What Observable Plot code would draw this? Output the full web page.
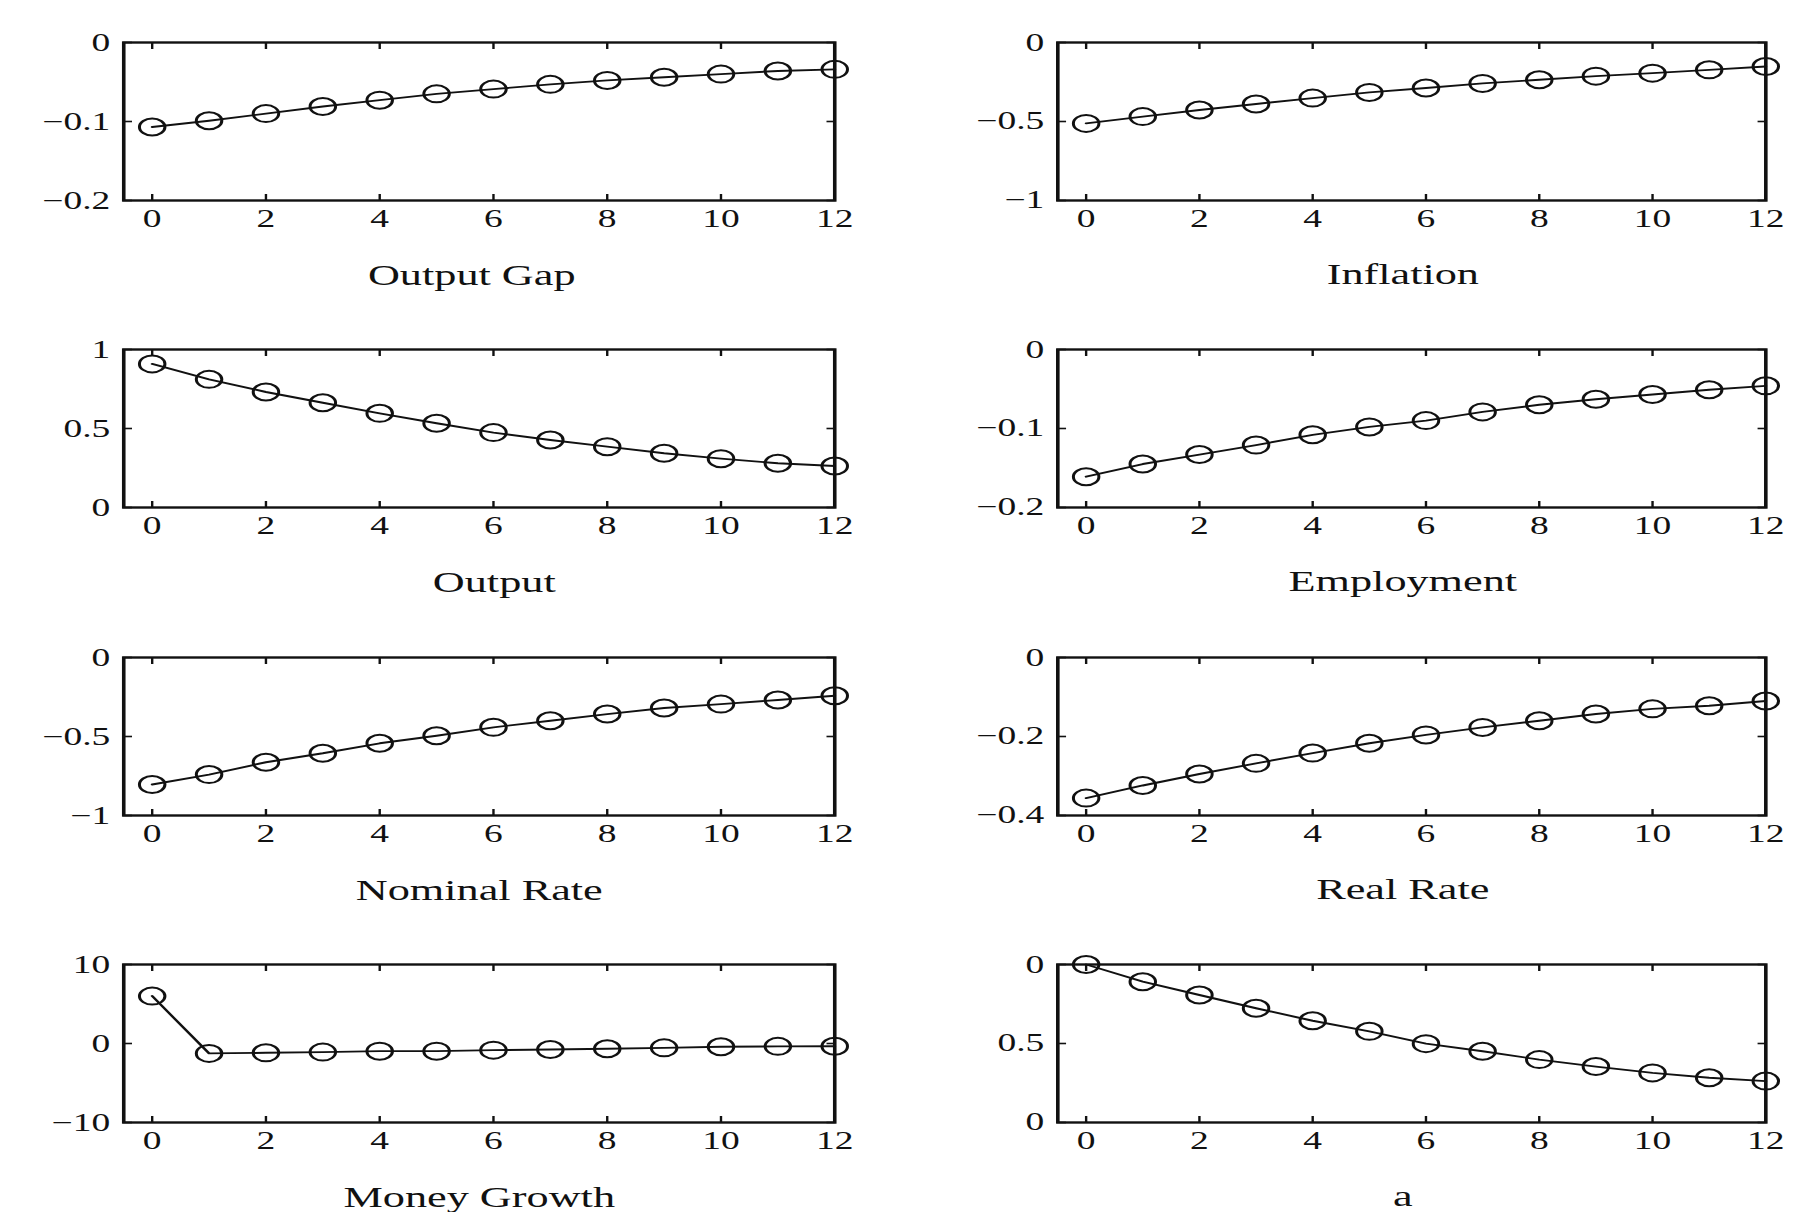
<!DOCTYPE html>
<html>
<head>
<meta charset="utf-8">
<script src="https://cdn.jsdelivr.net/npm/d3@7"></script>
<script src="https://cdn.jsdelivr.net/npm/@observablehq/plot@0.6"></script>
<style>
  html, body { margin: 0; padding: 0; background: #ffffff; overflow: hidden; }
  #stage { position: relative; width: 1201.33px; height: 1212px; transform: scaleX(1.5); transform-origin: 0 0; }
  #stage svg { position: absolute; }
</style>
</head>
<body>
<div id="stage"></div>
<script>
// ---- data ----
const periods = [0, 1, 2, 3, 4, 5, 6, 7, 8, 9, 10, 11, 12];
const xTicks = [0, 2, 4, 6, 8, 10, 12];

const outputGap   = [-0.107, -0.099, -0.090, -0.081, -0.073, -0.065, -0.059, -0.053, -0.048, -0.044, -0.040, -0.036, -0.034];
const inflation   = [-0.512, -0.469, -0.427, -0.389, -0.352, -0.316, -0.288, -0.259, -0.236, -0.213, -0.194, -0.173, -0.152];
const output      = [0.909, 0.811, 0.731, 0.663, 0.596, 0.533, 0.474, 0.427, 0.385, 0.343, 0.309, 0.280, 0.263];
const employment  = [-0.161, -0.145, -0.133, -0.121, -0.108, -0.098, -0.090, -0.079, -0.070, -0.063, -0.057, -0.051, -0.046];
const nominalRate = [-0.804, -0.741, -0.663, -0.606, -0.543, -0.495, -0.442, -0.400, -0.358, -0.320, -0.295, -0.269, -0.242];
const realRate    = [-0.356, -0.324, -0.295, -0.268, -0.242, -0.217, -0.196, -0.177, -0.160, -0.143, -0.130, -0.122, -0.110];
const moneyGrowth = [6.0, -1.25, -1.18, -1.09, -0.97, -0.97, -0.84, -0.76, -0.67, -0.55, -0.42, -0.36, -0.34];
const aShock      = [1.0, 0.891, 0.807, 0.723, 0.644, 0.577, 0.499, 0.451, 0.398, 0.354, 0.314, 0.283, 0.262];

const titles = ["Output Gap", "Inflation", "Output", "Employment", "Nominal Rate", "Real Rate", "Money Growth", "a"];

const ticksOutputGap = [-0.2, -0.1, 0],   labelsOutputGap = ["\u22120.2", "\u22120.1", "0"];
const ticksInflation = [-1, -0.5, 0],     labelsInflation = ["\u22121", "\u22120.5", "0"];
const ticksOutput    = [0, 0.5, 1],       labelsOutput    = ["0", "0.5", "1"];
const ticksEmploy    = [-0.2, -0.1, 0],   labelsEmploy    = ["\u22120.2", "\u22120.1", "0"];
const ticksNominal   = [-1, -0.5, 0],     labelsNominal   = ["\u22121", "\u22120.5", "0"];
const ticksReal      = [-0.4, -0.2, 0],   labelsReal      = ["\u22120.4", "\u22120.2", "0"];
const ticksMoney     = [-10, 0, 10],      labelsMoney     = ["\u221210", "0", "10"];
const ticksA         = [0, 0.5, 1],       labelsA         = ["0", "0.5", "0"];

const panels = [
  {title: titles[0], values: outputGap,   ticks: ticksOutputGap, labels: labelsOutputGap},
  {title: titles[1], values: inflation,   ticks: ticksInflation, labels: labelsInflation},
  {title: titles[2], values: output,      ticks: ticksOutput,    labels: labelsOutput},
  {title: titles[3], values: employment,  ticks: ticksEmploy,    labels: labelsEmploy},
  {title: titles[4], values: nominalRate, ticks: ticksNominal,   labels: labelsNominal},
  {title: titles[5], values: realRate,    ticks: ticksReal,      labels: labelsReal},
  {title: titles[6], values: moneyGrowth, ticks: ticksMoney,     labels: labelsMoney},
  {title: titles[7], values: aShock,      ticks: ticksA,         labels: labelsA}
];

// ---- layout (unstretched coordinates; the stage is stretched 1.5x horizontally like the scan) ----
const ink = "#111111";
const colLeft = [0, 600];
const colWidth = [600, 601.33];
const colMarginLeft = [82, 104.7];
const colMarginRight = [44, 24.6];
const rowFrameTop = [42, 349, 657, 964];
const titleShift = [-5, -6, 10, -6, 0, -6, 0, -6];
const frameH = 158;
const mt = 20, mb = 100;

const stage = document.getElementById("stage");

panels.forEach((p, k) => {
  const col = k % 2, row = Math.floor(k / 2);
  const data = periods.map((t, i) => ({t, v: p.values[i]}));
  const chart = Plot.plot({
    width: colWidth[col],
    height: mt + frameH + mb,
    marginLeft: colMarginLeft[col],
    marginRight: colMarginRight[col],
    marginTop: mt,
    marginBottom: mb,
    style: {
      fontFamily: "'Liberation Serif', 'Times New Roman', serif",
      fontSize: "25px",
      color: ink,
      background: "transparent",
      overflow: "visible"
    },
    x: {domain: [-0.5, 12]},
    y: {domain: [p.ticks[0], p.ticks[p.ticks.length - 1]]},
    marks: [
      Plot.frame({stroke: ink, strokeWidth: 2.4}),
      Plot.axisX(xTicks, {anchor: "bottom", tickSize: -6, tickPadding: 15, strokeWidth: 1.6, label: null, tickFormat: d => String(d)}),
      Plot.axisX(xTicks, {anchor: "top", tickSize: -6, strokeWidth: 1.6, fill: "none", label: null}),
      Plot.axisY(p.ticks, {anchor: "left", tickSize: -6, tickPadding: 15, strokeWidth: 1.6, label: null,
        tickFormat: d => p.labels[p.ticks.indexOf(d)]}),
      Plot.axisY(p.ticks, {anchor: "right", tickSize: -6, strokeWidth: 1.6, fill: "none", label: null}),
      Plot.line(data, {x: "t", y: "v", stroke: ink, strokeWidth: 1.9}),
      Plot.dot(data, {x: "t", y: "v", r: 8.5, stroke: ink, strokeWidth: 2, fill: "none"}),
      Plot.text([p.title], {frameAnchor: "bottom", dx: titleShift[k], dy: 84, fontSize: 29.5, fill: ink})
    ]
  });
  chart.style.left = colLeft[col] + "px";
  chart.style.top = (rowFrameTop[row] - mt) + "px";
  stage.appendChild(chart);
});
</script>
</body>
</html>
